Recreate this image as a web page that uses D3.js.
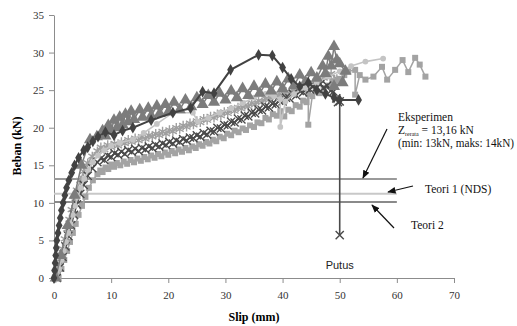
<!DOCTYPE html>
<html>
<head>
<meta charset="utf-8">
<script src="https://cdn.jsdelivr.net/npm/d3@7"></script>
<style>
  body { margin: 0; background: #fff; }
  svg { display: block; }
  .tick text { font-family: "Liberation Serif", serif; font-size: 11px; fill: #333; }
  .note { font-family: "Liberation Serif", serif; font-size: 11.5px; fill: #111; }
</style>
</head>
<body>
<div id="chart"></div>
<script>
// slip (mm), load (kN) pairs
const seriesDiamond = [[0,0],[0.1,1],[0.2,2],[0.3,3],[0.4,4],[0.5,5],[0.7,6],[0.9,7],[1.1,8],[1.3,9],[1.6,10],[1.9,11],[2.2,12],[2.6,13],[3.1,14],[3.6,15],[4.3,16],[5.2,17],[5.9,17.4],[6.8,18.2],[7.7,18.8],[9,19.4],[10.5,19],[12,19.6],[13.8,20],[17,21],[20.8,22],[23.9,22.6],[26,24.8],[28,24.6],[30.9,27.7],[35.8,29.7],[38.2,29.6],[40,28],[41.5,26.5],[43,25.5],[44.5,26],[46,25],[47.5,24.5],[49,24],[50,23.7],[53.3,23.7]];
const seriesTriangle = [[0.3,0],[1.2,3],[2.4,7],[3.6,11],[4.8,15],[6.3,18.4],[7.5,18.8],[8.5,19.6],[9,18.9],[9.5,20.3],[10,19.6],[10.5,21],[11,20],[11.5,21.4],[12,20.4],[12.5,21.8],[13,20.8],[13.5,22.2],[14,21.1],[15,22.4],[15.5,21.4],[16.5,22.6],[17,21.6],[18,22.9],[18.5,21.9],[19.5,23.1],[20,22.1],[21,23.4],[22,22.4],[23,23.7],[24,22.8],[25,24],[26,23.1],[27,24.3],[28,23.4],[29,24.6],[30,23.7],[31,24.9],[32,24],[33,25.2],[34,24.3],[35,25.5],[36,24.6],[37,25.8],[38,24.9],[39,26.1],[40,25.2],[41,26.5],[42,25.6],[43,27],[44,26.1],[45,27.3],[46,26.6],[47,28.2],[47.5,27.2],[48,29.5],[48.5,28.2],[49,30.8],[49.5,29],[50,28.5],[51,27.5],[50.5,26],[49,25.5]];
const seriesCircle = [[0.5,0],[0.9,1.2],[1.3,2.4],[1.7,3.6],[2.1,4.8],[2.5,6],[2.9,7.2],[3.3,8.4],[3.7,9.6],[4.2,10.8],[4.7,12],[5.3,13.2],[6,14.4],[6.8,15.4],[7.7,16.3],[8.8,17],[10,17.6],[11.5,18],[13.8,18.4],[15.7,19.3],[18,20.5],[20.8,22],[24.3,22],[25.2,20.8],[27,21.3],[29,22],[31,22.6],[33,23.3],[35,24],[37,24.5],[38.5,24.2],[39.6,23.8],[39.6,20.1],[40.5,23.5],[42,24.5],[44,25.3],[46,26],[48,26.8],[50,27.5],[52,28.2],[54.5,28.8],[57.6,29.2]];
const seriesSquare = [[0.8,0],[1.3,1.2],[1.8,2.4],[2.3,3.6],[2.8,4.8],[3.3,6],[3.8,7.2],[4.3,8.4],[4.9,9.6],[5.5,10.8],[6.1,12],[6.8,13],[7.6,13.8],[8.1,14.3],[8.5,14.1],[9,14.7],[9.5,14.5],[10,15.1],[10.5,14.8],[11,15.3],[11.6,15],[12.2,15.5],[12.8,15.2],[13.4,15.7],[14,15.4],[14.6,15.9],[15.2,15.6],[15.8,16.1],[16.4,15.8],[17,16.3],[17.6,16],[18.2,16.5],[18.8,16.2],[19.4,16.7],[20,16.4],[20.6,16.9],[21.2,16.6],[21.8,17.1],[22.4,16.8],[23,17.3],[23.6,17],[24.2,17.5],[24.8,17.3],[25.4,17.8],[26,17.6],[26.6,18.1],[27.2,17.9],[27.8,18.4],[28.4,18.2],[29,18.8],[29.7,18.6],[30.3,19.2],[31,19],[31.6,19.6],[32.3,19.4],[33,19.9],[33.6,19.7],[34.3,20.3],[35,20.1],[35.6,20.7],[36.3,20.6],[37,21.3],[37.6,21.1],[38.3,21.8],[39,21.6],[39.6,22.2],[40.3,21.5],[41,22.4],[41.6,22.2],[42.3,23],[43,22.8],[43.6,23.6],[44.2,23.4],[44.5,24.5],[44.5,20.4],[45.2,24.2],[45.8,24.8],[46.5,24.6],[47.2,25.3],[48,25.6],[48.7,26.2],[49.4,26],[50,26.5],[50.8,27],[51.5,27.5],[52.7,27.7],[52.7,24.4],[53.5,27],[54.5,26.4],[55.9,26.8],[57.4,28.1],[58.3,26.4],[59.7,27.7],[61,29],[62,27.4],[63.2,29.3],[64,28.4],[65,26.8]];
const seriesCross = [[0.5,0],[1,1.4],[1.5,2.8],[2,4.2],[2.5,5.6],[3,7],[3.5,8.4],[4,9.8],[4.6,11.2],[5.2,12.4],[5.9,13.6],[6.7,14.6],[7.6,15.4],[8.2,15.9],[8.8,15.7],[9.4,16.3],[10,16.1],[10.6,16.6],[11.2,16.4],[11.8,16.8],[12.4,16.5],[13,17],[13.6,16.8],[14.2,17.2],[14.8,16.9],[15.4,17.3],[16,17.1],[16.6,17.5],[17.2,17.3],[17.8,17.7],[18.4,17.5],[19,17.9],[19.6,17.7],[20.2,18.1],[20.8,17.9],[21.4,18.3],[22,18.1],[22.6,18.5],[23.2,18.3],[23.8,18.7],[24.4,18.6],[25,19],[25.6,18.8],[26.2,19.3],[26.8,19.1],[27.4,19.6],[28,19.5],[28.6,20],[29.2,19.9],[29.8,20.4],[30.4,20.3],[31,20.8],[31.6,20.7],[32.2,21.2],[32.8,21.1],[33.4,21.6],[34,21.5],[34.6,22],[35.2,21.9],[35.8,22.4],[36.4,22.3],[37,22.8],[37.6,22.7],[38.2,23.2],[38.8,23.1],[39.4,23.6],[40,23.5],[40.6,24],[41.2,23.9],[41.8,24.5],[42.4,24.3],[43,24.9],[43.6,24.7],[44.2,25.3],[44.8,25.1],[45.4,25.6],[46,25.4],[46.6,25.8],[47.2,25.3],[47.8,25.6],[48.4,24.9],[48.9,24.8],[49.4,23.9],[49.7,23.4],[50,23.5],[50,5.7]];
const seriesStar = [[0.3,0],[0.7,1.3],[1.1,2.6],[1.5,3.9],[1.9,5.2],[2.3,6.5],[2.7,7.8],[3.1,9.1],[3.5,10.4],[4,11.7],[4.6,13],[5.2,14.2],[5.9,15.3],[6.7,16.2],[7.6,16.9],[8.2,17.4],[8.8,17.1],[9.4,17.7],[10,17.4],[10.6,17.9],[11.2,17.6],[11.8,18.1],[12.4,17.9],[13,18.4],[13.6,18.1],[14.2,18.6],[14.8,18.3],[15.4,18.8],[16,18.5],[16.6,19],[17.2,18.8],[17.8,19.2],[18.4,19],[19,19.5],[19.6,19.2],[20.2,19.7],[20.8,19.5],[21.4,20],[22,19.8],[22.6,20.3],[23.2,20.1],[23.8,20.6],[24.4,20.4],[25,20.9],[25.6,20.7],[26.2,21.2],[26.8,21],[27.4,21.5],[28,21.3],[28.6,21.8],[29.2,21.6],[29.8,22.1],[30.4,21.9],[31,22.4],[31.6,22.2],[32.2,22.7],[32.8,22.5],[33.4,23],[34,22.8],[34.6,23.3],[35.2,23.1],[35.8,23.6],[36.4,23.4],[37,23.9],[37.6,23.7],[38.2,24.2],[38.8,24],[39.4,24.5],[40,24.3],[40.6,24.8],[41.2,24.6],[41.8,25.1],[42.4,24.9],[43,25.4],[43.6,25.2],[44.2,25.7],[44.8,25.5],[45.4,26],[46,25.8],[46.6,26.3],[47.2,26.6],[47.8,27],[48.5,27.2],[49.5,26.5],[48.5,25.5]];

// design loads (kN), drawn up to slip 60
const refLoads = [13.16, 11.2, 10.1];
const refEnd = 60;
const xTicks = [0, 10, 20, 30, 40, 50, 60, 70];
const yTicks = [0, 5, 10, 15, 20, 25, 30, 35];

const width = 517, height = 326;
const m = {left: 54, right: 63, top: 15, bottom: 48};

const svg = d3.select("#chart").append("svg")
  .attr("width", width).attr("height", height);

const x = d3.scaleLinear().domain([0, 70]).range([m.left, width - m.right]);
const y = d3.scaleLinear().domain([0, 35]).range([height - m.bottom, m.top]);

// axes
const xAxis = svg.append("g")
  .attr("transform", "translate(0," + y(0) + ")")
  .call(d3.axisBottom(x).tickValues(xTicks).tickSize(5).tickPadding(8).tickSizeOuter(0));
const yAxis = svg.append("g")
  .attr("transform", "translate(" + x(0) + ",0)")
  .call(d3.axisLeft(y).tickValues(yTicks).tickSize(5).tickPadding(5).tickSizeOuter(0));
[xAxis, yAxis].forEach(a => {
  a.select(".domain").attr("stroke", "#8c8c8c");
  a.selectAll(".tick line").attr("stroke", "#8c8c8c");
});

// reference lines
const refColors = ["#9a9a9a", "#c8c8c8", "#8a8a8a"];
svg.selectAll(".ref")
  .data(refLoads)
  .enter().append("line")
  .attr("class", "ref")
  .attr("x1", x(0)).attr("x2", x(refEnd))
  .attr("y1", d => y(d)).attr("y2", d => y(d))
  .attr("stroke", (d, i) => refColors[i])
  .attr("stroke-width", 2);

const line = d3.line().x(d => x(d[0])).y(d => y(d[1]));
const symTimes = d3.symbolTimes || d3.symbolCross;
const symStar = d3.symbolAsterisk || d3.symbolPlus || d3.symbolCross;

function drawSeries(data, color, lw, sym, size, stroked) {
  const g = svg.append("g");
  g.append("path").datum(data)
    .attr("fill", "none").attr("stroke", color)
    .attr("stroke-width", lw).attr("d", line);
  g.selectAll("path.mk")
    .data(data)
    .enter().append("path")
    .attr("class", "mk")
    .attr("transform", d => "translate(" + x(d[0]) + "," + y(d[1]) + ")")
    .attr("d", d3.symbol().type(sym).size(size))
    .attr("fill", stroked ? "none" : color)
    .attr("stroke", stroked ? color : "none")
    .attr("stroke-width", stroked ? 1.4 : 0);
}

drawSeries(seriesSquare, "#a3a3a3", 1.5, d3.symbolSquare, 36, false);
drawSeries(seriesStar, "#a0a0a0", 1.5, symStar, 60, true);
drawSeries(seriesCross, "#4a4a4a", 1.6, symTimes, 45, true);
drawSeries(seriesCircle, "#c4c4c4", 1.6, d3.symbolCircle, 26, false);
drawSeries(seriesTriangle, "#7c7c7c", 1.5, d3.symbolTriangle, 64, false);
drawSeries(seriesDiamond, "#424242", 2, d3.symbolDiamond, 40, false);

// arrows
svg.append("defs").append("marker")
  .attr("id", "arr").attr("viewBox", "0 0 10 10")
  .attr("refX", 9).attr("refY", 5)
  .attr("markerWidth", 7).attr("markerHeight", 7)
  .attr("orient", "auto")
  .append("path").attr("d", "M0,1L10,5L0,9Z").attr("fill", "#111");

const arrows = [[387, 129, 363, 178], [413, 186, 388, 192], [394, 228, 372, 205]];
svg.selectAll(".arrow")
  .data(arrows)
  .enter().append("line")
  .attr("class", "arrow")
  .attr("x1", d => d[0]).attr("y1", d => d[1])
  .attr("x2", d => d[2]).attr("y2", d => d[3])
  .attr("stroke", "#111").attr("stroke-width", 1.2)
  .attr("marker-end", "url(#arr)");

// notes
svg.append("text").attr("class", "note").attr("x", 398).attr("y", 121).text("Eksperimen");
const z = svg.append("text").attr("class", "note").attr("x", 398).attr("y", 134);
z.append("tspan").text("Z");
z.append("tspan").attr("font-size", "6px").attr("dy", 2).text("rerata");
z.append("tspan").attr("dy", -2).text(" = 13,16 kN");
svg.append("text").attr("class", "note").attr("x", 398).attr("y", 147)
  .attr("textLength", 116).attr("lengthAdjust", "spacingAndGlyphs")
  .text("(min: 13kN, maks: 14kN)");
svg.append("text").attr("class", "note").attr("x", 425).attr("y", 193).text("Teori 1 (NDS)");
svg.append("text").attr("class", "note").attr("x", 411).attr("y", 229).text("Teori 2");

svg.append("text")
  .attr("x", x(50)).attr("y", 269)
  .attr("text-anchor", "middle")
  .attr("font-family", "Liberation Sans, Arial, sans-serif")
  .attr("font-size", 11).attr("fill", "#222")
  .text("Putus");

// axis titles
svg.append("text")
  .attr("x", 254).attr("y", 321)
  .attr("text-anchor", "middle")
  .attr("font-family", "Liberation Serif, serif")
  .attr("font-weight", "bold").attr("font-size", 12)
  .text("Slip (mm)");
svg.append("text")
  .attr("transform", "translate(21,146) rotate(-90)")
  .attr("text-anchor", "middle")
  .attr("font-family", "Liberation Serif, serif")
  .attr("font-weight", "bold").attr("font-size", 12)
  .text("Beban (kN)");
</script>
</body>
</html>
